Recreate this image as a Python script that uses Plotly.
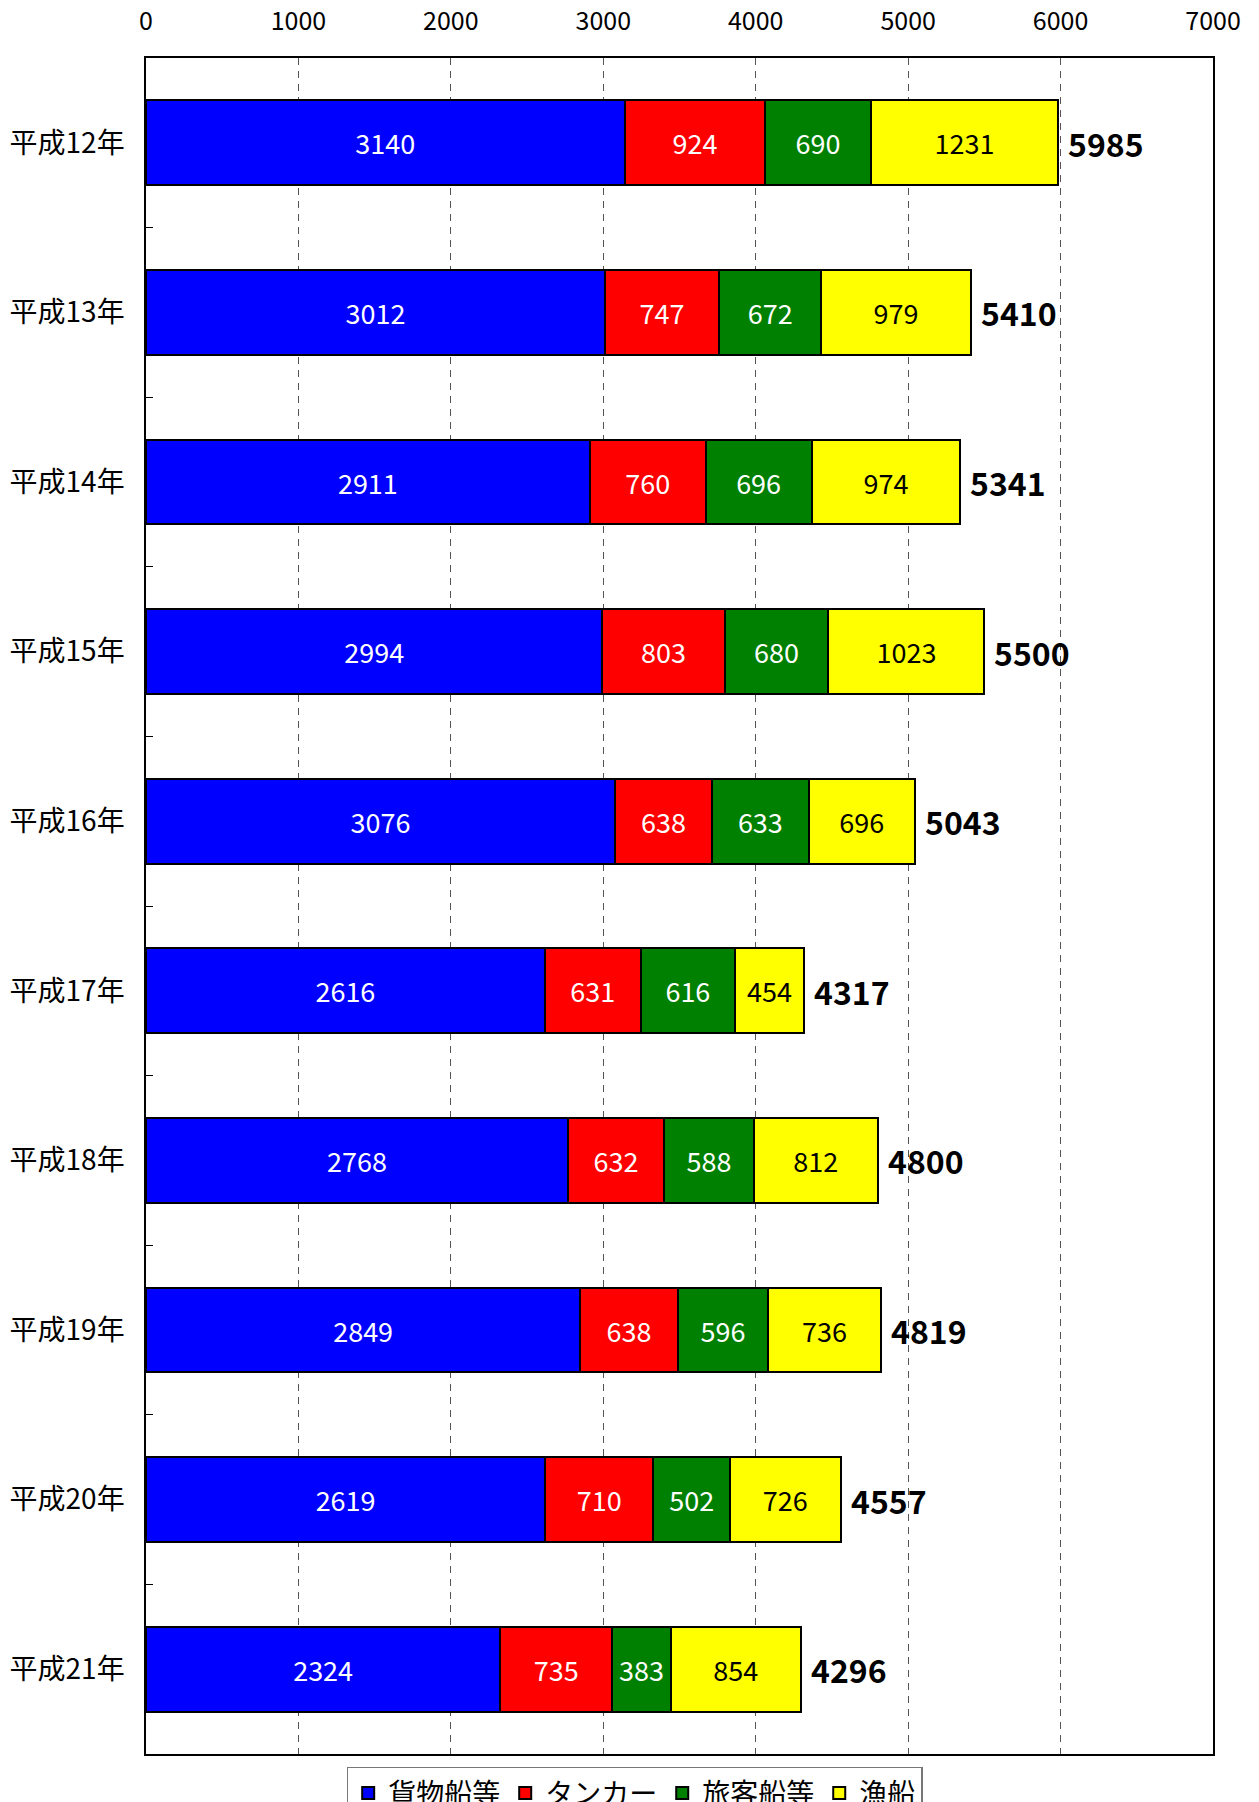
import plotly.graph_objects as go

categories = ["平成12年", "平成13年", "平成14年", "平成15年", "平成16年",
              "平成17年", "平成18年", "平成19年", "平成20年", "平成21年"]
cargo = [3140, 3012, 2911, 2994, 3076, 2616, 2768, 2849, 2619, 2324]
tanker = [924, 747, 760, 803, 638, 631, 632, 638, 710, 735]
passenger = [690, 672, 696, 680, 633, 616, 588, 596, 502, 383]
fishing = [1231, 979, 974, 1023, 696, 454, 812, 736, 726, 854]
totals = [5985, 5410, 5341, 5500, 5043, 4317, 4800, 4819, 4557, 4296]

series_names = ["貨物船等", "タンカー", "旅客船等", "漁船"]
series_vals = [cargo, tanker, passenger, fishing]
series_colors = ["#0000FF", "#FF0000", "#008000", "#FFFF00"]
text_colors = ["white", "white", "white", "black"]

FONT = "Noto Sans CJK JP, sans-serif"

fig = go.Figure()
for name, vals, col, tcol in zip(series_names, series_vals, series_colors, text_colors):
    fig.add_trace(go.Bar(
        name=name, y=categories, x=vals, orientation="h",
        marker=dict(color=col, line=dict(color="black", width=2)),
        text=[str(v) for v in vals], textposition="inside",
        insidetextanchor="middle", textangle=0, constraintext="none",
        textfont=dict(color=tcol, size=27, family=FONT),
        hoverinfo="skip",
    ))

for cat, tot in zip(categories, totals):
    fig.add_annotation(
        x=tot, y=cat, xref="x", yref="y", text=f"<b>{tot}</b>",
        showarrow=False, xanchor="left", yanchor="middle", xshift=8,
        font=dict(size=32, color="black", family=FONT),
    )

fig.update_layout(
    width=1259, height=1802,
    barmode="stack", bargap=0.5,
    plot_bgcolor="white", paper_bgcolor="white",
    margin=dict(l=146, r=46, t=58, b=48, autoexpand=False),
    font=dict(family=FONT, color="black"),
    legend=dict(
        orientation="h", x=0.458, xanchor="center", y=-0.0075, yanchor="top",
        bordercolor="#777777", borderwidth=1.5,
        font=dict(size=28, family=FONT),
        itemwidth=30, traceorder="normal",
    ),
    xaxis=dict(
        side="top", range=[0, 7000], dtick=1000, tick0=0,
        showgrid=True, gridcolor="#555555", gridwidth=1, griddash="7px,6px",
        showline=True, linecolor="black", linewidth=1.5, mirror=True,
        ticks="", ticklabelstandoff=16,
        tickfont=dict(size=25, family=FONT), zeroline=False,
    ),
    yaxis=dict(
        type="category", categoryorder="array", categoryarray=categories,
        autorange="reversed",
        showline=True, linecolor="black", linewidth=1.5, mirror=True,
        ticks="inside", tickson="boundaries", ticklen=7, tickcolor="black",
        ticklabelstandoff=14,
        tickfont=dict(size=28, family=FONT), showgrid=False,
    ),
)

fig.write_html("out.html", config={"displayModeBar": False},
               post_script="document.body.style.margin='0';")
